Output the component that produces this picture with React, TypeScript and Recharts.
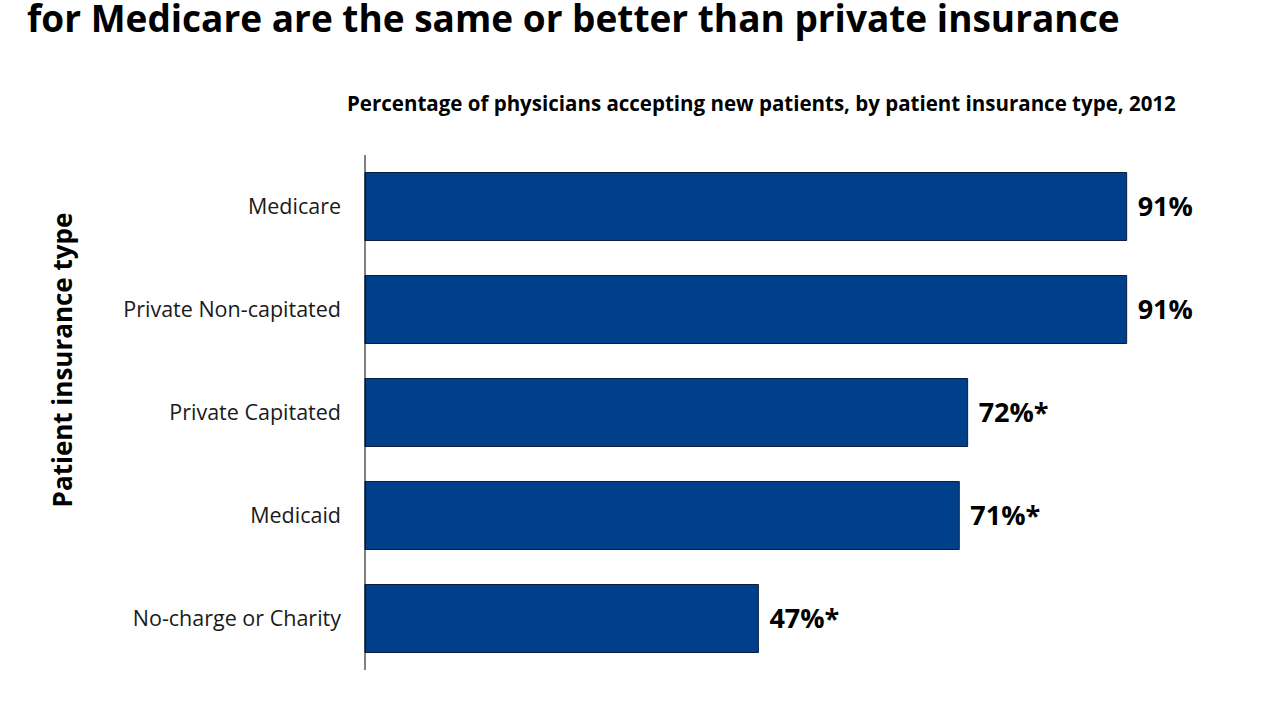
import React from "react";
import { BarChart, Bar, XAxis, YAxis, LabelList } from "recharts";

const FONT = "'Open Sans', sans-serif";

const C = {
  bar: "#003F8A",
  barEdge: "#0B1E3F",
  ink: "#000000",
  text: "#1A1A1A",
};

const categories = [
  "Medicare",
  "Private Non-capitated",
  "Private Capitated",
  "Medicaid",
  "No-charge or Charity",
];
const values = [91, 91, 72, 71, 47];
const valueLabels = ["91%", "91%", "72%*", "71%*", "47%*"];

const data = categories.map((name, i) => ({
  name,
  value: values[i],
  label: valueLabels[i],
}));

export default function App() {
  return (
    <div
      style={{
        position: "fixed",
        left: 0,
        top: 0,
        width: 1280,
        height: 720,
        background: "#fff",
        overflow: "hidden",
        fontFamily: FONT,
      }}
    >
      <div
        style={{
          position: "absolute",
          left: 27,
          top: 0,
          fontSize: 37,
          lineHeight: 0.95,
          fontWeight: 700,
          color: C.ink,
          whiteSpace: "nowrap",
        }}
      >
        for Medicare are the same or better than private insurance
      </div>
      <div
        style={{
          position: "absolute",
          left: 347,
          top: 89,
          fontSize: 20.5,
          fontWeight: 700,
          color: C.ink,
          whiteSpace: "nowrap",
        }}
      >
        Percentage of physicians accepting new patients, by patient insurance type, 2012
      </div>
      <div
        style={{
          position: "absolute",
          left: 62,
          top: 360,
          transform: "translate(-50%, -50%) rotate(-90deg)",
          fontSize: 26,
          fontWeight: 700,
          color: C.ink,
          whiteSpace: "nowrap",
        }}
      >
        Patient insurance type
      </div>
      <div style={{ position: "absolute", left: 0, top: 0 }}>
        <BarChart
          width={1280}
          height={720}
          data={data}
          layout="vertical"
          margin={{ top: 155, right: 78, bottom: 50, left: 105 }}
          barCategoryGap="17%"
        >
          <XAxis type="number" domain={[0, 100]} hide />
          <YAxis
            type="category"
            dataKey="name"
            width={260}
            tickSize={0}
            tickMargin={24}
            tickLine={false}
            axisLine={{ stroke: C.ink, strokeWidth: 1 }}
            tick={{ fontSize: 21.5, fill: C.text, fontFamily: FONT }}
          />
          <Bar
            dataKey="value"
            fill={C.bar}
            stroke={C.barEdge}
            strokeWidth={1}
            isAnimationActive={false}
          >
            <LabelList
              dataKey="label"
              position="right"
              offset={11}
              style={{ fontSize: 27, fontWeight: 700, fill: C.ink, fontFamily: FONT }}
            />
          </Bar>
        </BarChart>
      </div>
    </div>
  );
}
